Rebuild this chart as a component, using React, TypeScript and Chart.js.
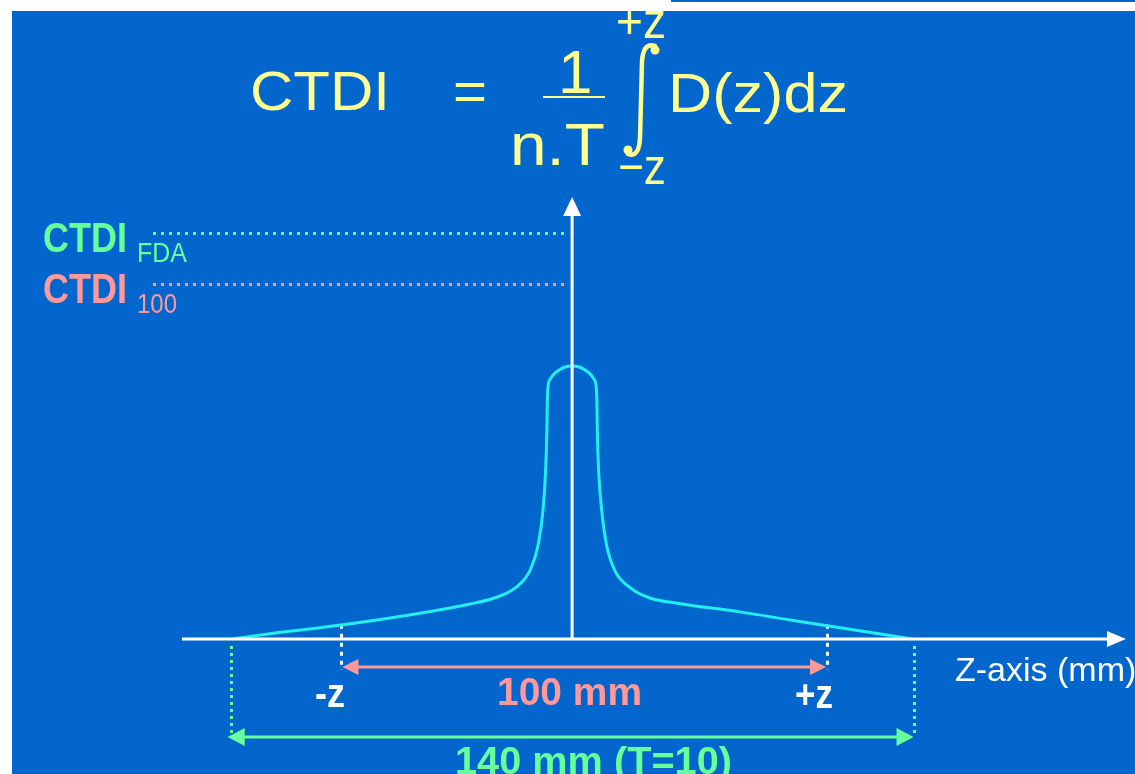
import React, { useEffect, useRef } from "react";
import { Chart, registerables } from "chart.js";

Chart.register(...registerables);

// Longitudinal dose profile D(z): position along the z-axis (mm) and dose relative to the peak (= 100)
const zPositionsMm = [
  -70, -60, -47.5, -31, -21, -16, -11.7, -8.6, -7, -6, -5.45, -5.2, -5.1, -4.95, -4.45, -3.6, -2.5, -1.3,
  0,
  1.3, 2.5, 3.6, 4.45, 4.95, 5.1, 5.2, 5.45, 6.1, 7.1, 8.8, 12, 16, 22, 34.5, 52.5, 70,
];
const relativeDose = [
  0, 2.4, 5.1, 9.5, 12.8, 15, 18.7, 25.3, 34.4, 47, 62, 76, 87, 92.5, 95.3, 97.3, 98.7, 99.7,
  100,
  99.7, 98.7, 97.3, 95.3, 92.5, 87, 76, 62, 47, 34.4, 25, 18.7, 15, 13, 9.9, 4.8, 0,
];

// Reference dose levels marked on the vertical axis
const ctdiSubscripts = ["FDA", "100"];
const ctdiLevels = [148.7, 130];

// Integration ranges along z (mm)
const range100Mm = [-47.5, 52.5];
const range140Mm = [-70.3, 70.3];

const W = 1135;
const H = 774;
const FONT = '"Liberation Sans", Arial, Helvetica, sans-serif';

const BLUE = "#0366cc";
const YELLOW = "#ffff8f";
const GREEN = "#66ff99";
const SALMON = "#ff9999";
const CYAN = "#22f0f0";
const WHITE = "#ffffff";

function drawText(
  ctx: CanvasRenderingContext2D,
  text: string,
  x: number,
  y: number,
  font: string,
  color: string,
  width?: number
) {
  ctx.save();
  ctx.font = font;
  ctx.fillStyle = color;
  ctx.textAlign = "left";
  ctx.textBaseline = "alphabetic";
  ctx.translate(x, y);
  if (width) {
    const m = ctx.measureText(text).width;
    ctx.scale(width / m, 1);
  }
  ctx.fillText(text, 0, 0);
  ctx.restore();
}

function arrowHead(
  ctx: CanvasRenderingContext2D,
  tx: number,
  ty: number,
  dx: number,
  dy: number,
  len: number,
  half: number,
  color: string
) {
  const bx = tx - dx * len;
  const by = ty - dy * len;
  const nx = -dy;
  const ny = dx;
  ctx.beginPath();
  ctx.moveTo(tx, ty);
  ctx.lineTo(bx + nx * half, by + ny * half);
  ctx.lineTo(bx - nx * half, by - ny * half);
  ctx.closePath();
  ctx.fillStyle = color;
  ctx.fill();
}

function line(
  ctx: CanvasRenderingContext2D,
  x1: number,
  y1: number,
  x2: number,
  y2: number,
  color: string,
  width: number,
  dash: number[] = []
) {
  ctx.save();
  ctx.beginPath();
  ctx.setLineDash(dash);
  ctx.lineCap = "butt";
  ctx.strokeStyle = color;
  ctx.lineWidth = width;
  ctx.moveTo(x1, y1);
  ctx.lineTo(x2, y2);
  ctx.stroke();
  ctx.restore();
}

const diagramPlugin = {
  id: "ctdiDiagram",
  beforeDraw(chart: Chart) {
    const ctx = chart.ctx;
    ctx.save();
    ctx.fillStyle = WHITE;
    ctx.fillRect(0, 0, W, H);
    ctx.fillStyle = BLUE;
    ctx.fillRect(12, 11, W - 12, H - 11);
    ctx.fillRect(671, 0, W - 671, 2);
    ctx.restore();
  },
  beforeDatasetsDraw(chart: Chart) {
    const ctx = chart.ctx;
    const xs = chart.scales.x;
    const ys = chart.scales.y;
    const px = (v: number) => xs.getPixelForValue(v);
    const py = (v: number) => ys.getPixelForValue(v);
    const ox = px(0);
    const oy = py(0);

    ctx.save();
    ctx.beginPath();
    ctx.rect(12, 11, W - 12, H - 11);
    ctx.clip();

    // CTDI reference levels: dotted lines from the labels to the dose axis
    const levelColors = [GREEN, SALMON];
    ctdiLevels.forEach((lv, i) => {
      const y = Math.round(py(lv)) + 0.5;
      line(ctx, 153, y, ox - 3, y, levelColors[i], 3, [3, 5]);
    });

    // Integration limits ±z (100 mm) and the 140 mm span
    const y100 = oy + 28;
    const y140 = oy + 98;
    range100Mm.forEach((z) => {
      const x = Math.round(px(z)) + 0.5;
      line(ctx, x, py(5.2), x, y100 + 3, WHITE, 3, [4, 5]);
    });
    range140Mm.forEach((z) => {
      const x = Math.round(px(z)) + 0.5;
      line(ctx, x, oy + 7, x, y140 - 3, GREEN, 3, [3, 4]);
    });

    const a1 = px(range100Mm[0]);
    const a2 = px(range100Mm[1]);
    line(ctx, a1 + 10, y100, a2 - 10, y100, SALMON, 3);
    arrowHead(ctx, a1 + 1, y100, -1, 0, 16, 8, SALMON);
    arrowHead(ctx, a2 - 1, y100, 1, 0, 16, 8, SALMON);

    const b1 = px(range140Mm[0]);
    const b2 = px(range140Mm[1]);
    line(ctx, b1 + 10, y140, b2 - 10, y140, GREEN, 3);
    arrowHead(ctx, b1 - 3, y140, -1, 0, 17, 9, GREEN);
    arrowHead(ctx, b2, y140, 1, 0, 17, 9, GREEN);
    ctx.restore();
  },
  afterDatasetsDraw(chart: Chart) {
    const ctx = chart.ctx;
    const xs = chart.scales.x;
    const ys = chart.scales.y;
    const ox = xs.getPixelForValue(0);
    const oy = ys.getPixelForValue(0);

    ctx.save();
    ctx.beginPath();
    ctx.rect(12, 11, W - 12, H - 11);
    ctx.clip();

    // Axes
    line(ctx, 182, oy, 1110, oy, WHITE, 3);
    arrowHead(ctx, 1126, oy, 1, 0, 19, 8, WHITE);
    line(ctx, ox, oy, ox, 212, WHITE, 3);
    arrowHead(ctx, ox, 197, 0, -1, 19, 9, WHITE);

    // Formula
    drawText(ctx, "CTDI", 250, 110, `56px ${FONT}`, YELLOW, 140);
    drawText(ctx, "=", 453, 110, `56px ${FONT}`, YELLOW, 34);
    drawText(ctx, "1", 558, 93, `62px ${FONT}`, YELLOW);
    ctx.fillStyle = YELLOW;
    ctx.fillRect(543, 96, 62, 2);
    drawText(ctx, "n.T", 510, 165, `60px ${FONT}`, YELLOW, 95);
    drawText(ctx, "+z", 616, 38, `50px ${FONT}`, YELLOW, 50);
    drawText(ctx, "\u2212z", 618, 184, `50px ${FONT}`, YELLOW, 48);
    drawText(ctx, "D(z)dz", 668, 112, `56px ${FONT}`, YELLOW, 180);

    // Integral sign
    ctx.save();
    ctx.strokeStyle = YELLOW;
    ctx.fillStyle = YELLOW;
    ctx.lineWidth = 4.5;
    ctx.lineCap = "round";
    ctx.beginPath();
    ctx.moveTo(655, 46);
    ctx.quadraticCurveTo(643, 42, 642, 62);
    ctx.lineTo(640, 138);
    ctx.quadraticCurveTo(639, 158, 628, 154);
    ctx.stroke();
    ctx.beginPath();
    ctx.arc(655, 50, 4.5, 0, Math.PI * 2);
    ctx.fill();
    ctx.beginPath();
    ctx.arc(628, 150, 4.5, 0, Math.PI * 2);
    ctx.fill();
    ctx.restore();

    // CTDI level labels
    const levelColors = [GREEN, SALMON];
    ctdiSubscripts.forEach((sub, i) => {
      const y = ys.getPixelForValue(ctdiLevels[i]);
      drawText(ctx, "CTDI", 43, y + 19, `bold 42px ${FONT}`, levelColors[i], 84);
      drawText(ctx, sub, 137, y + 29, `28px ${FONT}`, levelColors[i], sub === "FDA" ? 50 : 40);
    });

    // Axis and range labels
    drawText(ctx, "-z", 315, 707, `bold 40px ${FONT}`, WHITE, 30);
    drawText(ctx, "+z", 795, 708, `bold 40px ${FONT}`, WHITE, 38);
    drawText(ctx, "100 mm", 497, 705, `bold 38px ${FONT}`, SALMON, 145);
    drawText(ctx, "140 mm (T=10)", 455, 774, `bold 38px ${FONT}`, GREEN, 277);
    drawText(ctx, "Z-axis (mm)", 955, 681, `34px ${FONT}`, WHITE);
    ctx.restore();
  },
};

export default function App() {
  const canvasRef = useRef<HTMLCanvasElement | null>(null);

  useEffect(() => {
    const canvas = canvasRef.current;
    if (!canvas) return;
    const chart = new Chart(canvas, {
      type: "line",
      data: {
        datasets: [
          {
            label: "D(z)",
            data: zPositionsMm.map((z, i) => ({ x: z, y: relativeDose[i] })),
            borderColor: CYAN,
            borderWidth: 3,
            pointRadius: 0,
            fill: false,
            cubicInterpolationMode: "monotone",
          },
        ],
      },
      options: {
        animation: false,
        responsive: false,
        maintainAspectRatio: false,
        layout: { padding: 0 },
        plugins: {
          legend: { display: false },
          tooltip: { enabled: false },
        },
        scales: {
          x: { type: "linear", display: false, min: -117.8, max: 115.9 },
          y: { type: "linear", display: false, min: -49.5, max: 234.1 },
        },
      },
      plugins: [diagramPlugin],
    });
    return () => chart.destroy();
  }, []);

  return (
    <div style={{ position: "fixed", left: 0, top: 0, width: W, height: H }}>
      <canvas ref={canvasRef} width={W} height={H} style={{ display: "block" }} />
    </div>
  );
}
